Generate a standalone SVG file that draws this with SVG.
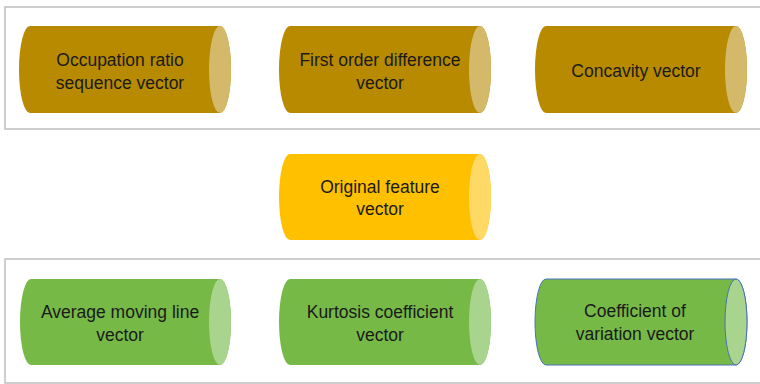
<svg xmlns="http://www.w3.org/2000/svg" width="760" height="384" viewBox="0 0 760 384">
<style>
.frame{fill:none;stroke:#BFBFBF;stroke-width:1.5}
.t{font-family:"Liberation Sans",Arial,sans-serif;font-size:17.5px;fill:#1a1a1a;text-anchor:middle}
.gold .body{fill:#B78A00}.gold .cap{fill:#D4B96A}
.amber .body{fill:#FFC000}.amber .cap{fill:#FFD966}
.green .body{fill:#76B946}.green .cap{fill:#A9D48E}
.outl .body,.outl .cap{stroke:#4A72B8;stroke-width:1}
</style>
<rect class="frame" x="5" y="7" width="770" height="122"/>
<rect class="frame" x="5" y="259" width="770" height="124"/>
<g id="connectors"/>
<g id="n1" class="gold">
<path class="body" d="M30,26 H220 A11,43.5 0 0 1 220,113 H30 A11,43.5 0 0 1 30,26 Z"/>
<ellipse class="cap" cx="220" cy="69.5" rx="11" ry="43.5"/>
<text class="t" x="120" y="66">Occupation ratio</text>
<text class="t" x="120" y="88.5">sequence vector</text>
</g>
<g id="n2" class="gold">
<path class="body" d="M290,26 H480 A11,43.5 0 0 1 480,113 H290 A11,43.5 0 0 1 290,26 Z"/>
<ellipse class="cap" cx="480" cy="69.5" rx="11" ry="43.5"/>
<text class="t" x="380" y="66">First order difference</text>
<text class="t" x="380" y="88.5">vector</text>
</g>
<g id="n3" class="gold">
<path class="body" d="M546,26 H736 A11,43.5 0 0 1 736,113 H546 A11,43.5 0 0 1 546,26 Z"/>
<ellipse class="cap" cx="736" cy="69.5" rx="11" ry="43.5"/>
<text class="t" x="636" y="77">Concavity vector</text>
</g>
<g id="n4" class="amber">
<path class="body" d="M290,154 H480 A11,43 0 0 1 480,240 H290 A11,43 0 0 1 290,154 Z"/>
<ellipse class="cap" cx="480" cy="197" rx="11" ry="43"/>
<text class="t" x="380" y="192.5">Original feature</text>
<text class="t" x="380" y="215">vector</text>
</g>
<g id="n5" class="green">
<path class="body" d="M31,279 H220 A11,43 0 0 1 220,365 H31 A11,43 0 0 1 31,279 Z"/>
<ellipse class="cap" cx="220" cy="322" rx="11" ry="43"/>
<text class="t" x="120" y="318">Average moving line</text>
<text class="t" x="120" y="340.5">vector</text>
</g>
<g id="n6" class="green">
<path class="body" d="M290,279 H480 A11,43 0 0 1 480,365 H290 A11,43 0 0 1 290,279 Z"/>
<ellipse class="cap" cx="480" cy="322" rx="11" ry="43"/>
<text class="t" x="380" y="318">Kurtosis coefficient</text>
<text class="t" x="380" y="340.5">vector</text>
</g>
<g id="n7" class="green outl">
<path class="body" d="M546,279 H736 A11,43 0 0 1 736,365 H546 A11,43 0 0 1 546,279 Z"/>
<ellipse class="cap" cx="736" cy="322" rx="11" ry="43"/>
<text class="t" x="635" y="317">Coefficient of</text>
<text class="t" x="635" y="340">variation vector</text>
</g>
</svg>
